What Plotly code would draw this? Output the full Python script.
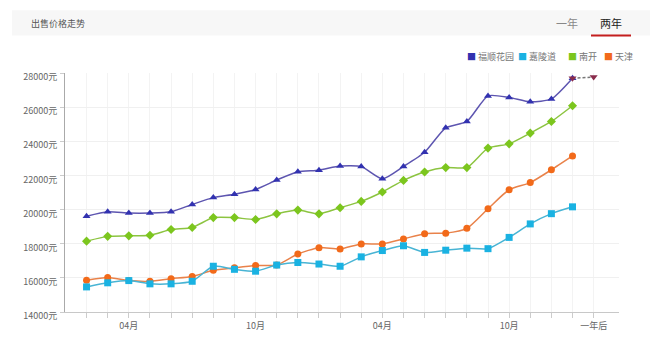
import plotly.graph_objects as go

# ---------------- data ----------------
months = ["02月", "03月", "04月", "05月", "06月", "07月", "08月", "09月", "10月", "11月", "12月", "01月",
          "02月", "03月", "04月", "05月", "06月", "07月", "08月", "09月", "10月", "11月", "12月", "01月",
          "一年后"]
tick_labels = ["", "", "04月", "", "", "", "", "", "10月", "", "", "",
               "", "", "04月", "", "", "", "", "", "10月", "", "", "", "一年后"]

series_names = ["福顺花园", "嘉陵道", "南开", "天津"]

fushun = [19610, 19870, 19800, 19800, 19870, 20300, 20700, 20900, 21180, 21730, 22220, 22310,
          22550, 22520, 21800, 22530, 23360, 24790, 25160, 26660, 26570, 26310, 26480, 27690]
jialing = [15470, 15710, 15840, 15650, 15650, 15800, 16680, 16500, 16390, 16750, 16900, 16810,
           16680, 17230, 17600, 17880, 17490, 17620, 17740, 17710, 18370, 19160, 19760, 20160]
nankai = [18150, 18430, 18460, 18500, 18830, 18950, 19530, 19530, 19420, 19750, 19970, 19750,
          20110, 20480, 21030, 21710, 22200, 22460, 22460, 23600, 23850, 24480, 25160, 26080]
tianjin = [15860, 16020, 15840, 15800, 15950, 16080, 16440, 16590, 16720, 16750, 17400, 17770,
           17690, 17990, 17990, 18280, 18590, 18620, 18900, 20050, 21160, 21580, 22330, 23140]
forecast = [27690, 27760]   # 福顺花园: last month -> 一年后

y_ticks = [14000, 16000, 18000, 20000, 22000, 24000, 26000, 28000]
y_tick_text = ["14000元", "16000元", "18000元", "20000元", "22000元", "24000元", "26000元", "28000元"]

# ---------------- style ----------------
marker_colors = ["#3232b0", "#1ab2e2", "#7cc61e", "#f26a1a"]
line_colors = ["#5d55b0", "#48b4d4", "#8cc440", "#e9824a"]
symbols = ["triangle-up", "square", "diamond", "circle"]
msizes = [7, 7, 7, 7]
FONT = "Noto Sans CJK SC"

L, R, T, B = 65, 31, 73, 16
W, H = 650, 344
pw, ph = W - L - R, H - T - B


def px(x):
    return (x - L) / pw


def py(y):
    return (H - B - y) / ph


fig = go.Figure()

all_series = [fushun, jialing, nankai, tianjin]
for i in [3, 1, 2, 0]:
    vals = all_series[i]
    fig.add_trace(go.Scatter(
        x=list(range(len(vals))), y=vals, name=series_names[i],
        mode="lines+markers",
        line=dict(color=line_colors[i], width=1.5, shape="spline", smoothing=0.6),
        marker=dict(color=marker_colors[i], symbol=symbols[i], size=msizes[i]),
        showlegend=False, hoverinfo="skip"))

n = len(fushun)
fig.add_trace(go.Scatter(
    x=[n - 1, n], y=forecast, mode="lines",
    line=dict(color="#777777", width=1.5, dash="3px,2px"),
    showlegend=False, hoverinfo="skip"))
fig.add_trace(go.Scatter(
    x=[n - 1, n], y=forecast, mode="markers",
    marker=dict(color="#8a2c4c", symbol="triangle-down", size=7),
    showlegend=False, hoverinfo="skip"))

fig.update_xaxes(
    range=[-1.02, 25.2], tickmode="array",
    tickvals=list(range(len(months))), ticktext=tick_labels,
    showgrid=True, gridcolor="#f3f3f3", gridwidth=1,
    showline=True, linecolor="#c8c8c8", linewidth=1,
    ticks="outside", ticklen=5, tickcolor="#cccccc",
    tickfont=dict(family=FONT, size=9, color="#666666"),
    zeroline=False, fixedrange=True)
fig.update_yaxes(
    range=[14000, 28000], tickmode="array", tickvals=y_ticks, ticktext=y_tick_text,
    showgrid=True, gridcolor="#f0f0f0", gridwidth=1,
    showline=True, linecolor="#aaaaaa", linewidth=1,
    ticks="outside", ticklen=4, tickcolor="#cccccc",
    ticklabelshift=4, ticklabelstandoff=1,
    tickfont=dict(family=FONT, size=9, color="#666666"),
    zeroline=False, fixedrange=True)

shapes = [
    dict(type="rect", xref="paper", yref="paper",
         x0=px(12), x1=px(650), y0=py(33), y1=py(6),
         fillcolor="#f7f7f7", line=dict(width=0), layer="below"),
    dict(type="rect", xref="paper", yref="paper",
         x0=px(591), x1=px(631), y0=py(34), y1=py(32),
         fillcolor="#c41e1e", line=dict(width=0)),
]

annotations = [
    dict(text="出售价格走势", x=px(29), y=py(20), xref="paper", yref="paper",
         xanchor="left", yanchor="middle", showarrow=False,
         font=dict(family=FONT, size=9, color="#555555")),
    dict(text="一年", x=px(567), y=py(20), xref="paper", yref="paper",
         xanchor="center", yanchor="middle", showarrow=False,
         font=dict(family=FONT, size=11, color="#888888")),
    dict(text="两年", x=px(611), y=py(20), xref="paper", yref="paper",
         xanchor="center", yanchor="middle", showarrow=False,
         font=dict(family=FONT, size=11, color="#222222")),
]

legend_x = [465, 516, 566, 602]
for i, name in enumerate(series_names):
    annotations.append(dict(
        text=f'<span style="color:{marker_colors[i]}">■</span> {name}',
        x=px(legend_x[i]), y=py(55), xref="paper", yref="paper",
        xanchor="left", yanchor="middle", showarrow=False,
        font=dict(family=FONT, size=9, color="#777777")))

fig.update_layout(
    width=W, height=H, margin=dict(l=L, r=R, t=T, b=B),
    paper_bgcolor="white", plot_bgcolor="white",
    shapes=shapes, annotations=annotations, showlegend=False,
    font=dict(family=FONT))

fig.write_html("out.html", config={"displayModeBar": False})
